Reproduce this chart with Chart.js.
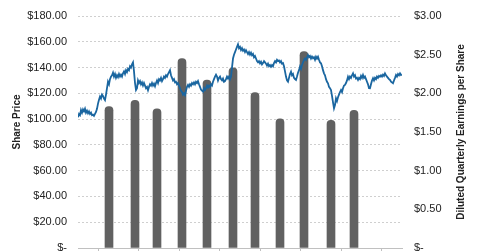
<!DOCTYPE html>
<html>
<head>
<meta charset="utf-8">
<script src="https://cdn.jsdelivr.net/npm/chart.js@4"></script>
<style>
  html, body { margin: 0; padding: 0; background: #fff; }
  #wrap { width: 480px; height: 251px; }
</style>
</head>
<body>
<div id="wrap"><canvas id="chart"></canvas></div>
<script>
// Daily share price (one value per time step along the x axis)
const sharePrice = [
  101.5, 104, 103, 107, 105, 107.5, 106, 108, 105, 106.5, 104.5, 106, 104, 105, 103, 103.5, 102.5, 104, 105.5, 108,
  112, 115, 117.5, 116, 119, 118, 116, 114.8, 119, 124, 129, 127, 131, 133, 134, 136, 133, 135, 132, 134,
  132.5, 135, 133, 134.5, 133, 135.5, 137, 135, 138, 136.5, 139, 138, 141, 140, 142.5, 144, 137, 128, 122.6, 124,
  130, 128, 129.5, 127, 128.5, 126, 128, 126, 124, 125, 122.5, 125, 127, 126, 128, 126, 127.5, 125.5, 128, 130,
  128, 131, 130, 132, 129.5, 131, 133, 132, 134, 133, 135, 136.5, 138, 134, 132, 130, 131, 128.5, 129, 127,
  128, 126, 124, 122, 121, 119, 120, 118.7, 122, 125, 126.5, 125, 127, 126, 128, 127, 128.5, 127, 129, 128,
  129.5, 127, 125, 123, 122, 121.3, 124, 122.5, 124, 126, 124.5, 126, 125, 127, 126, 129, 131, 133, 134.5, 133,
  130, 132, 133, 131, 130, 131.5, 129, 129.5, 131, 133, 131.5, 133, 131, 133, 140, 147, 150, 152, 154, 156,
  158, 155, 156, 153.6, 155, 153, 154, 152, 153.5, 152, 150.5, 152, 150, 151.5, 149.5, 150.5, 148, 149, 147, 145,
  144, 145, 143.3, 144.5, 142.5, 143.5, 145, 144, 143, 141.5, 143, 141, 142, 140.7, 142, 141, 143.5, 145, 144, 146,
  145, 145.5, 144, 145, 143, 143.5, 141, 137, 133, 130, 129, 132, 135, 136.8, 134, 135, 132, 131, 130.4, 133,
  136, 138, 140.7, 139, 142, 144, 145.9, 147, 146, 148, 149.7, 148, 149, 147, 148.5, 147.2, 148, 146, 148.4, 147,
  148.4, 146, 144, 143.3, 141, 138, 135.5, 134, 131, 129, 127.8, 125, 124, 122.6, 118, 113, 108.4, 111, 116.1, 114,
  117, 119, 121, 122.6, 121, 124, 126, 126.5, 128, 130, 132.9, 131, 133, 132, 134, 135.5, 133, 134, 131.5, 132,
  130.4, 132, 131, 133.5, 132, 134.2, 132, 133, 131, 129, 127, 124, 123.9, 127, 130, 131.7, 130, 132, 131, 133,
  132, 133.5, 132.9, 134, 133, 134.5, 133.5, 135.5, 134, 133, 132, 131, 130.4, 129, 128.5, 127.8, 130, 132, 134.2, 133,
  135, 134, 135.5, 134.2, 134.5
];

// Quarterly diluted EPS: where each quarter falls on the time axis, and its value
const epsPositions = [31, 57, 79, 104, 129, 155, 177, 202, 226, 253, 276];
const epsValues = [1.83, 1.91, 1.80, 2.45, 2.17, 2.33, 2.01, 1.67, 2.54, 1.65, 1.78];

// Time axis tick marks (no labels in the original)
const timeTicks = [0, 40.5, 81, 121.5, 162, 202.5, 243, 283.5, 324];

const money = v => (v === 0 ? '$-' : '$' + v.toFixed(2));
const tickFont = { family: 'Liberation Sans, Arial, sans-serif', size: 11 };

// fixed axis width, and let the end labels hang over the plot edges
const fixValueAxis = scale => {
  scale.width = 78;
  scale.paddingTop = 0;
  scale.paddingBottom = 0;
};

// Draw the two rotated axis titles (both read bottom to top)
const axisTitles = {
  id: 'axisTitles',
  afterDraw(chart) {
    const ctx = chart.ctx;
    ctx.save();
    ctx.fillStyle = '#222';
    ctx.font = 'bold 10px "Liberation Sans", Arial, sans-serif';
    ctx.textAlign = 'center';
    ctx.textBaseline = 'middle';

    ctx.translate(17, 122);
    ctx.rotate(-Math.PI / 2);
    ctx.fillText('Share Price', 0, 0);
    ctx.setTransform(1, 0, 0, 1, 0, 0);

    ctx.translate(461, 132);
    ctx.rotate(-Math.PI / 2);
    ctx.fillText('Diluted Quarterly Earnings per Share', 0, 0);
    ctx.restore();
  }
};

new Chart(document.getElementById('chart'), {
  data: {
    datasets: [
      {
        type: 'line',
        label: 'Share Price',
        data: sharePrice.map((v, i) => ({ x: i, y: v })),
        yAxisID: 'y',
        borderColor: '#1a66a0',
        borderWidth: 1.8,
        pointRadius: 0,
        tension: 0,
        order: 0
      },
      {
        type: 'bar',
        label: 'Diluted EPS',
        data: epsPositions.map((x, i) => ({ x: x, y: epsValues[i] })),
        yAxisID: 'y1',
        backgroundColor: '#616161',
        barThickness: 8,
        borderRadius: { topLeft: 4, topRight: 4 },
        borderSkipped: 'bottom',
        order: 1
      }
    ]
  },
  options: {
    responsive: true,
    maintainAspectRatio: false,
    animation: false,
    layout: { autoPadding: false, padding: { top: 16, left: 0, right: 0, bottom: 0 } },
    plugins: {
      legend: { display: false },
      tooltip: { enabled: false }
    },
    scales: {
      x: {
        type: 'linear',
        position: 'bottom',
        min: 0,
        max: 324,
        offset: false,
        afterBuildTicks: scale => { scale.ticks = timeTicks.map(v => ({ value: v })); },
        afterFit: scale => { scale.height = 3; scale.paddingLeft = 0; scale.paddingRight = 0; },
        ticks: { display: false },
        grid: { drawOnChartArea: false, drawTicks: true, tickLength: 4, color: '#c0c0c0' },
        border: { color: '#c0c0c0', width: 1 }
      },
      y: {
        position: 'left',
        min: 0,
        max: 180,
        afterFit: fixValueAxis,
        ticks: { stepSize: 20, callback: money, color: '#222', font: tickFont, padding: 11 },
        grid: { color: '#cfcfcf', drawTicks: false },
        border: { display: false, dash: [2, 2] }
      },
      y1: {
        position: 'right',
        min: 0,
        max: 3,
        afterFit: fixValueAxis,
        ticks: { stepSize: 0.5, callback: money, color: '#222', font: tickFont, padding: 12 },
        grid: { drawOnChartArea: false, drawTicks: false },
        border: { display: false }
      }
    }
  },
  plugins: [axisTitles]
});
</script>
</body>
</html>
